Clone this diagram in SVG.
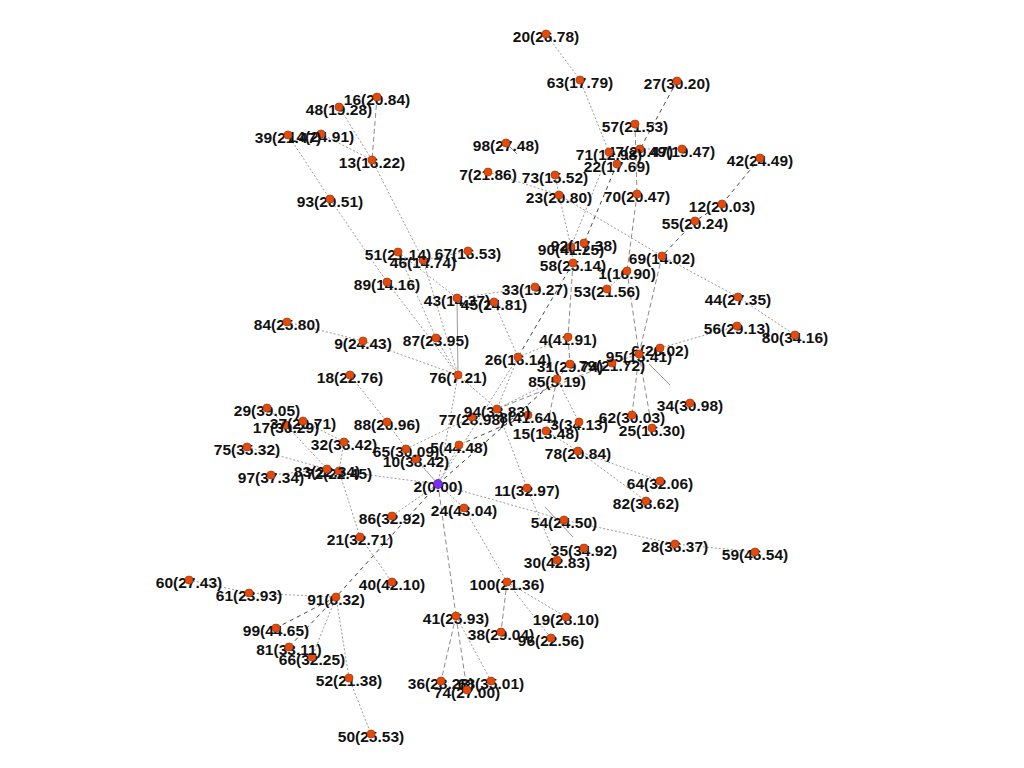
<svg xmlns="http://www.w3.org/2000/svg" width="1024" height="768" viewBox="0 0 1024 768">
<style>
.e{stroke:#9a9a9a;stroke-width:1;fill:none;stroke-dasharray:2,2}
.d{stroke:#8a8a8a;stroke-width:1;fill:none;stroke-dasharray:5,3}
.k{stroke:#444;stroke-width:1;fill:none;stroke-dasharray:4,4}
.s{stroke:#999;stroke-width:1;fill:none}
.node text{font-family:"Liberation Sans",Arial,sans-serif;font-weight:bold;font-size:15.5px;fill:#111;text-anchor:middle}
.node circle{fill:#e64a0a;stroke:#b03a08;stroke-width:0.8}
#n2 circle{fill:#7a2ff0;stroke:#5a1fc0}
</style>
<rect width="1024" height="768" fill="#fff"/>
<g id="connectors">
<line class="e" x1="546" y1="34" x2="580" y2="80"/>
<line class="e" x1="580" y1="80" x2="609" y2="152"/>
<line class="e" x1="609" y1="152" x2="617" y2="164"/>
<line class="k" x1="617" y1="164" x2="584" y2="243"/>
<line class="e" x1="609" y1="152" x2="571" y2="247"/>
<line class="k" x1="677" y1="81" x2="640" y2="149"/>
<line class="e" x1="640" y1="149" x2="682" y2="149"/>
<line class="d" x1="635" y1="124" x2="637" y2="194"/>
<line class="d" x1="637" y1="194" x2="627" y2="271"/>
<line class="e" x1="627" y1="271" x2="607" y2="289"/>
<line class="d" x1="627" y1="271" x2="639" y2="354"/>
<line class="s" x1="506" y1="143" x2="517" y2="154"/>
<line class="e" x1="488" y1="172" x2="559" y2="195"/>
<line class="e" x1="555" y1="175" x2="559" y2="195"/>
<line class="e" x1="559" y1="195" x2="571" y2="247"/>
<line class="e" x1="559" y1="195" x2="662" y2="256"/>
<line class="e" x1="571" y1="247" x2="573" y2="263"/>
<line class="k" x1="760" y1="158" x2="722" y2="204"/>
<line class="k" x1="722" y1="204" x2="695" y2="221"/>
<line class="k" x1="695" y1="221" x2="662" y2="256"/>
<line class="e" x1="662" y1="256" x2="738" y2="297"/>
<line class="e" x1="738" y1="297" x2="795" y2="335"/>
<line class="d" x1="662" y1="256" x2="639" y2="354"/>
<line class="e" x1="639" y1="354" x2="612" y2="363"/>
<line class="e" x1="639" y1="354" x2="660" y2="348"/>
<line class="s" x1="649" y1="364" x2="670" y2="385"/>
<line class="d" x1="639" y1="354" x2="632" y2="415"/>
<line class="d" x1="639" y1="354" x2="652" y2="428"/>
<line class="e" x1="660" y1="348" x2="737" y2="326"/>
<line class="d" x1="377" y1="97" x2="372" y2="160"/>
<line class="e" x1="339" y1="107" x2="372" y2="160"/>
<line class="e" x1="321" y1="134" x2="372" y2="160"/>
<line class="e" x1="288" y1="135" x2="330" y2="199"/>
<line class="e" x1="330" y1="199" x2="387" y2="282"/>
<line class="e" x1="387" y1="282" x2="458" y2="375"/>
<line class="e" x1="372" y1="160" x2="423" y2="260"/>
<line class="e" x1="423" y1="260" x2="468" y2="251"/>
<line class="e" x1="423" y1="260" x2="458" y2="375"/>
<line class="e" x1="287" y1="322" x2="363" y2="341"/>
<line class="e" x1="363" y1="341" x2="458" y2="375"/>
<line class="e" x1="436" y1="338" x2="458" y2="375"/>
<line class="e" x1="398" y1="252" x2="436" y2="338"/>
<line class="e" x1="398" y1="252" x2="457" y2="298"/>
<line class="s" x1="457" y1="298" x2="458" y2="375"/>
<line class="e" x1="457" y1="298" x2="535" y2="287"/>
<line class="k" x1="573" y1="263" x2="518" y2="357"/>
<line class="d" x1="573" y1="263" x2="568" y2="337"/>
<line class="e" x1="494" y1="302" x2="518" y2="357"/>
<line class="e" x1="518" y1="357" x2="568" y2="337"/>
<line class="e" x1="518" y1="357" x2="438" y2="484"/>
<line class="e" x1="518" y1="357" x2="497" y2="409"/>
<line class="d" x1="568" y1="337" x2="570" y2="364"/>
<line class="d" x1="570" y1="364" x2="557" y2="379"/>
<line class="e" x1="350" y1="375" x2="387" y2="422"/>
<line class="e" x1="387" y1="422" x2="406" y2="449"/>
<line class="e" x1="406" y1="449" x2="438" y2="484"/>
<line class="e" x1="416" y1="459" x2="438" y2="484"/>
<line class="e" x1="406" y1="449" x2="472" y2="417"/>
<line class="e" x1="267" y1="408" x2="286" y2="425"/>
<line class="e" x1="286" y1="425" x2="327" y2="469"/>
<line class="e" x1="303" y1="421" x2="344" y2="442"/>
<line class="e" x1="344" y1="442" x2="339" y2="471"/>
<line class="e" x1="247" y1="447" x2="327" y2="469"/>
<line class="e" x1="271" y1="475" x2="327" y2="469"/>
<line class="e" x1="327" y1="469" x2="339" y2="471"/>
<line class="e" x1="339" y1="471" x2="438" y2="484"/>
<line class="e" x1="339" y1="471" x2="360" y2="537"/>
<line class="e" x1="360" y1="537" x2="392" y2="582"/>
<line class="k" x1="438" y1="484" x2="336" y2="597"/>
<line class="e" x1="392" y1="516" x2="438" y2="484"/>
<line class="e" x1="189" y1="580" x2="249" y2="593"/>
<line class="e" x1="249" y1="593" x2="336" y2="597"/>
<line class="k" x1="336" y1="597" x2="276" y2="628"/>
<line class="k" x1="336" y1="597" x2="289" y2="647"/>
<line class="e" x1="336" y1="597" x2="312" y2="657"/>
<line class="e" x1="336" y1="597" x2="349" y2="678"/>
<line class="e" x1="349" y1="678" x2="371" y2="734"/>
<line class="d" x1="438" y1="484" x2="456" y2="616"/>
<line class="d" x1="456" y1="616" x2="441" y2="681"/>
<line class="d" x1="456" y1="616" x2="467" y2="690"/>
<line class="e" x1="456" y1="616" x2="491" y2="681"/>
<line class="e" x1="438" y1="484" x2="464" y2="508"/>
<line class="e" x1="464" y1="508" x2="507" y2="582"/>
<line class="d" x1="507" y1="582" x2="501" y2="632"/>
<line class="e" x1="507" y1="582" x2="551" y2="638"/>
<line class="e" x1="507" y1="582" x2="566" y2="617"/>
<line class="e" x1="497" y1="409" x2="527" y2="488"/>
<line class="s" x1="545" y1="507" x2="573" y2="537"/>
<line class="e" x1="527" y1="488" x2="557" y2="560"/>
<line class="e" x1="438" y1="484" x2="564" y2="520"/>
<line class="e" x1="564" y1="520" x2="675" y2="544"/>
<line class="e" x1="675" y1="544" x2="755" y2="552"/>
<line class="e" x1="578" y1="451" x2="660" y2="481"/>
<line class="e" x1="578" y1="451" x2="646" y2="501"/>
<line class="e" x1="546" y1="431" x2="578" y2="451"/>
<line class="e" x1="557" y1="379" x2="579" y2="422"/>
<line class="d" x1="557" y1="379" x2="546" y2="431"/>
<line class="k" x1="438" y1="484" x2="557" y2="379"/>
<line class="e" x1="438" y1="484" x2="458" y2="375"/>
<line class="e" x1="458" y1="375" x2="497" y2="409"/>
<line class="e" x1="497" y1="409" x2="557" y2="379"/>
<line class="d" x1="497" y1="409" x2="612" y2="363"/>
<line class="e" x1="459" y1="445" x2="438" y2="484"/>
<line class="k" x1="459" y1="445" x2="528" y2="415"/>
</g>
<g id="n1" class="node"><text x="627" y="279">1(16.90)</text><circle cx="627" cy="271" r="4"/></g>
<g id="n3" class="node"><text x="579" y="430">3(34.13)</text><circle cx="579" cy="422" r="4"/></g>
<g id="n4" class="node"><text x="568" y="345">4(41.91)</text><circle cx="568" cy="337" r="4"/></g>
<g id="n5" class="node"><text x="459" y="453">5(44.48)</text><circle cx="459" cy="445" r="4"/></g>
<g id="n6" class="node"><text x="660" y="356">6(26.02)</text><circle cx="660" cy="348" r="4"/></g>
<g id="n7" class="node"><text x="488" y="180">7(21.86)</text><circle cx="488" cy="172" r="4"/></g>
<g id="n8" class="node"><text x="528" y="423">8(41.64)</text><circle cx="528" cy="415" r="4"/></g>
<g id="n9" class="node"><text x="363" y="349">9(24.43)</text><circle cx="363" cy="341" r="4"/></g>
<g id="n10" class="node"><text x="416" y="467">10(38.42)</text><circle cx="416" cy="459" r="4"/></g>
<g id="n11" class="node"><text x="527" y="496">11(32.97)</text><circle cx="527" cy="488" r="4"/></g>
<g id="n12" class="node"><text x="722" y="212">12(20.03)</text><circle cx="722" cy="204" r="4"/></g>
<g id="n13" class="node"><text x="372" y="168">13(16.22)</text><circle cx="372" cy="160" r="4"/></g>
<g id="n14" class="node"><text x="321" y="142">14(24.91)</text><circle cx="321" cy="134" r="4"/></g>
<g id="n15" class="node"><text x="546" y="439">15(13.48)</text><circle cx="546" cy="431" r="4"/></g>
<g id="n16" class="node"><text x="377" y="105">16(20.84)</text><circle cx="377" cy="97" r="4"/></g>
<g id="n17" class="node"><text x="286" y="433">17(30.29)</text><circle cx="286" cy="425" r="4"/></g>
<g id="n18" class="node"><text x="350" y="383">18(22.76)</text><circle cx="350" cy="375" r="4"/></g>
<g id="n19" class="node"><text x="566" y="625">19(28.10)</text><circle cx="566" cy="617" r="4"/></g>
<g id="n20" class="node"><text x="546" y="42">20(26.78)</text><circle cx="546" cy="34" r="4"/></g>
<g id="n21" class="node"><text x="360" y="545">21(32.71)</text><circle cx="360" cy="537" r="4"/></g>
<g id="n22" class="node"><text x="617" y="172">22(17.69)</text><circle cx="617" cy="164" r="4"/></g>
<g id="n23" class="node"><text x="559" y="203">23(20.80)</text><circle cx="559" cy="195" r="4"/></g>
<g id="n24" class="node"><text x="464" y="516">24(43.04)</text><circle cx="464" cy="508" r="4"/></g>
<g id="n25" class="node"><text x="652" y="436">25(16.30)</text><circle cx="652" cy="428" r="4"/></g>
<g id="n26" class="node"><text x="518" y="365">26(16.14)</text><circle cx="518" cy="357" r="4"/></g>
<g id="n27" class="node"><text x="677" y="89">27(30.20)</text><circle cx="677" cy="81" r="4"/></g>
<g id="n28" class="node"><text x="675" y="552">28(36.37)</text><circle cx="675" cy="544" r="4"/></g>
<g id="n29" class="node"><text x="267" y="416">29(39.05)</text><circle cx="267" cy="408" r="4"/></g>
<g id="n30" class="node"><text x="557" y="568">30(42.83)</text><circle cx="557" cy="560" r="4"/></g>
<g id="n31" class="node"><text x="570" y="372">31(29.74)</text><circle cx="570" cy="364" r="4"/></g>
<g id="n32" class="node"><text x="344" y="450">32(36.42)</text><circle cx="344" cy="442" r="4"/></g>
<g id="n33" class="node"><text x="535" y="295">33(19.27)</text><circle cx="535" cy="287" r="4"/></g>
<g id="n34" class="node"><text x="690" y="411">34(30.98)</text><circle cx="690" cy="403" r="4"/></g>
<g id="n35" class="node"><text x="584" y="556">35(34.92)</text><circle cx="584" cy="548" r="4"/></g>
<g id="n36" class="node"><text x="441" y="689">36(28.28)</text><circle cx="441" cy="681" r="4"/></g>
<g id="n37" class="node"><text x="303" y="429">37(20.71)</text><circle cx="303" cy="421" r="4"/></g>
<g id="n38" class="node"><text x="501" y="640">38(29.04)</text><circle cx="501" cy="632" r="4"/></g>
<g id="n39" class="node"><text x="288" y="143">39(21.47)</text><circle cx="288" cy="135" r="4"/></g>
<g id="n40" class="node"><text x="392" y="590">40(42.10)</text><circle cx="392" cy="582" r="4"/></g>
<g id="n41" class="node"><text x="456" y="624">41(25.93)</text><circle cx="456" cy="616" r="4"/></g>
<g id="n42" class="node"><text x="760" y="166">42(24.49)</text><circle cx="760" cy="158" r="4"/></g>
<g id="n43" class="node"><text x="457" y="306">43(14.37)</text><circle cx="457" cy="298" r="4"/></g>
<g id="n44" class="node"><text x="738" y="305">44(27.35)</text><circle cx="738" cy="297" r="4"/></g>
<g id="n45" class="node"><text x="494" y="310">45(24.81)</text><circle cx="494" cy="302" r="4"/></g>
<g id="n46" class="node"><text x="423" y="268">46(14.74)</text><circle cx="423" cy="260" r="4"/></g>
<g id="n47" class="node"><text x="640" y="157">47(20.47)</text><circle cx="640" cy="149" r="4"/></g>
<g id="n48" class="node"><text x="339" y="115">48(19.28)</text><circle cx="339" cy="107" r="4"/></g>
<g id="n49" class="node"><text x="682" y="157">49(19.47)</text><circle cx="682" cy="149" r="4"/></g>
<g id="n50" class="node"><text x="371" y="742">50(25.53)</text><circle cx="371" cy="734" r="4"/></g>
<g id="n51" class="node"><text x="398" y="260">51(21.14)</text><circle cx="398" cy="252" r="4"/></g>
<g id="n52" class="node"><text x="349" y="686">52(21.38)</text><circle cx="349" cy="678" r="4"/></g>
<g id="n53" class="node"><text x="607" y="297">53(21.56)</text><circle cx="607" cy="289" r="4"/></g>
<g id="n54" class="node"><text x="564" y="528">54(24.50)</text><circle cx="564" cy="520" r="4"/></g>
<g id="n55" class="node"><text x="695" y="229">55(20.24)</text><circle cx="695" cy="221" r="4"/></g>
<g id="n56" class="node"><text x="737" y="334">56(29.13)</text><circle cx="737" cy="326" r="4"/></g>
<g id="n57" class="node"><text x="635" y="132">57(21.53)</text><circle cx="635" cy="124" r="4"/></g>
<g id="n58" class="node"><text x="573" y="271">58(25.14)</text><circle cx="573" cy="263" r="4"/></g>
<g id="n59" class="node"><text x="755" y="560">59(46.54)</text><circle cx="755" cy="552" r="4"/></g>
<g id="n60" class="node"><text x="189" y="588">60(27.43)</text><circle cx="189" cy="580" r="4"/></g>
<g id="n61" class="node"><text x="249" y="601">61(23.93)</text><circle cx="249" cy="593" r="4"/></g>
<g id="n62" class="node"><text x="632" y="423">62(30.03)</text><circle cx="632" cy="415" r="4"/></g>
<g id="n63" class="node"><text x="580" y="88">63(17.79)</text><circle cx="580" cy="80" r="4"/></g>
<g id="n64" class="node"><text x="660" y="489">64(32.06)</text><circle cx="660" cy="481" r="4"/></g>
<g id="n65" class="node"><text x="406" y="457">65(30.09)</text><circle cx="406" cy="449" r="4"/></g>
<g id="n66" class="node"><text x="312" y="665">66(32.25)</text><circle cx="312" cy="657" r="4"/></g>
<g id="n67" class="node"><text x="468" y="259">67(16.53)</text><circle cx="468" cy="251" r="4"/></g>
<g id="n68" class="node"><text x="491" y="689">68(35.01)</text><circle cx="491" cy="681" r="4"/></g>
<g id="n69" class="node"><text x="662" y="264">69(14.02)</text><circle cx="662" cy="256" r="4"/></g>
<g id="n70" class="node"><text x="637" y="202">70(20.47)</text><circle cx="637" cy="194" r="4"/></g>
<g id="n71" class="node"><text x="609" y="160">71(12.98)</text><circle cx="609" cy="152" r="4"/></g>
<g id="n72" class="node"><text x="339" y="479">72(22.45)</text><circle cx="339" cy="471" r="4"/></g>
<g id="n73" class="node"><text x="555" y="183">73(15.52)</text><circle cx="555" cy="175" r="4"/></g>
<g id="n74" class="node"><text x="467" y="698">74(27.00)</text><circle cx="467" cy="690" r="4"/></g>
<g id="n75" class="node"><text x="247" y="455">75(35.32)</text><circle cx="247" cy="447" r="4"/></g>
<g id="n76" class="node"><text x="458" y="383">76(7.21)</text><circle cx="458" cy="375" r="4"/></g>
<g id="n77" class="node"><text x="472" y="425">77(28.98)</text><circle cx="472" cy="417" r="4"/></g>
<g id="n78" class="node"><text x="578" y="459">78(20.84)</text><circle cx="578" cy="451" r="4"/></g>
<g id="n79" class="node"><text x="612" y="371">79(21.72)</text><circle cx="612" cy="363" r="4"/></g>
<g id="n80" class="node"><text x="795" y="343">80(34.16)</text><circle cx="795" cy="335" r="4"/></g>
<g id="n81" class="node"><text x="289" y="655">81(33.11)</text><circle cx="289" cy="647" r="4"/></g>
<g id="n82" class="node"><text x="646" y="509">82(38.62)</text><circle cx="646" cy="501" r="4"/></g>
<g id="n83" class="node"><text x="327" y="477">83(22.34)</text><circle cx="327" cy="469" r="4"/></g>
<g id="n84" class="node"><text x="287" y="330">84(25.80)</text><circle cx="287" cy="322" r="4"/></g>
<g id="n85" class="node"><text x="557" y="387">85(5.19)</text><circle cx="557" cy="379" r="4"/></g>
<g id="n86" class="node"><text x="392" y="524">86(32.92)</text><circle cx="392" cy="516" r="4"/></g>
<g id="n87" class="node"><text x="436" y="346">87(23.95)</text><circle cx="436" cy="338" r="4"/></g>
<g id="n88" class="node"><text x="387" y="430">88(20.96)</text><circle cx="387" cy="422" r="4"/></g>
<g id="n89" class="node"><text x="387" y="290">89(14.16)</text><circle cx="387" cy="282" r="4"/></g>
<g id="n90" class="node"><text x="571" y="255">90(41.25)</text><circle cx="571" cy="247" r="4"/></g>
<g id="n91" class="node"><text x="336" y="605">91(6.32)</text><circle cx="336" cy="597" r="4"/></g>
<g id="n92" class="node"><text x="584" y="251">92(17.38)</text><circle cx="584" cy="243" r="4"/></g>
<g id="n93" class="node"><text x="330" y="207">93(20.51)</text><circle cx="330" cy="199" r="4"/></g>
<g id="n94" class="node"><text x="497" y="417">94(33.83)</text><circle cx="497" cy="409" r="4"/></g>
<g id="n95" class="node"><text x="639" y="362">95(15.41)</text><circle cx="639" cy="354" r="4"/></g>
<g id="n96" class="node"><text x="551" y="646">96(22.56)</text><circle cx="551" cy="638" r="4"/></g>
<g id="n97" class="node"><text x="271" y="483">97(37.34)</text><circle cx="271" cy="475" r="4"/></g>
<g id="n98" class="node"><text x="506" y="151">98(27.48)</text><circle cx="506" cy="143" r="4"/></g>
<g id="n99" class="node"><text x="276" y="636">99(44.65)</text><circle cx="276" cy="628" r="4"/></g>
<g id="n100" class="node"><text x="507" y="590">100(21.36)</text><circle cx="507" cy="582" r="4"/></g>
<g id="n2" class="node"><text x="438" y="492">2(0.00)</text><circle cx="438" cy="484" r="4.5"/></g>
</svg>
